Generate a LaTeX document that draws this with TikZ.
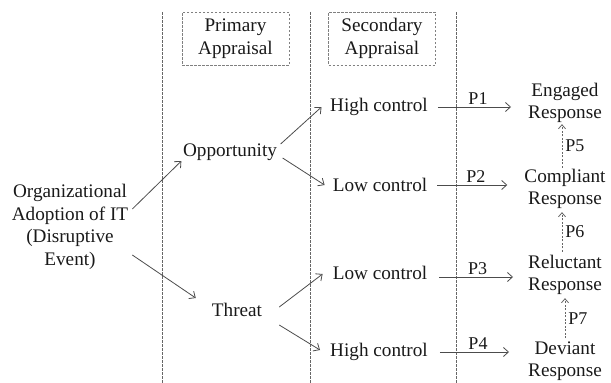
\documentclass[tikz,border=0pt]{standalone}
\usepackage{fontspec}
\setmainfont{Liberation Serif}
\usetikzlibrary{arrows.meta,calc}
\begin{document}
\begin{tikzpicture}[x=1pt,y=-1pt,
  txt/.style={inner sep=0pt, align=center, font=\fontsize{19.2}{22.5}\selectfont, text=black!90},
  plab/.style={inner sep=1pt, font=\fontsize{18}{20}\selectfont, text=black!90},
  arr/.style={draw=black!70, line width=0.8pt, -{Straight Barb[length=5pt,width=9pt]}},
  darr/.style={draw=black!60, line width=0.8pt, dash pattern=on 2pt off 1.5pt, -{Straight Barb[length=4pt,width=7pt]}},
  vline/.style={draw=black!60, line width=0.7pt, dash pattern=on 2.5pt off 1.5pt},
  hbox/.style={draw=black!50, line width=0.7pt, dash pattern=on 2.5pt off 1.5pt, minimum width=107pt, minimum height=53pt, inner sep=0pt, align=center, font=\fontsize{19.2}{22.5}\selectfont, text=black!90}
]
\useasboundingbox (0,0) rectangle (611,383);

% dashed separators
\coordinate (v1t) at (162,12); \coordinate (v1b) at (162,383);
\coordinate (v2t) at (310,12); \coordinate (v2b) at (310,383);
\coordinate (v3t) at (456,12); \coordinate (v3b) at (456,383);
\draw[vline] (v1t) -- (v1b);
\draw[vline] (v2t) -- (v2b);
\draw[vline] (v3t) -- (v3b);

% headers
\node[hbox] (prim) at (235.5,38.5) {Primary\\Appraisal};
\node[hbox] (sec) at (382,38.5) {Secondary\\Appraisal};

% nodes
\node[txt] (org) at (70,227) {Organizational\\Adoption of IT\\(Disruptive\\Event)};
\node[txt] (opp) at (230,152) {Opportunity};
\node[txt] (thr) at (237,310) {Threat};
\node[txt] (hc1) at (379,107) {High control};
\node[txt] (lc1) at (380,185) {Low control};
\node[txt] (lc2) at (380,273) {Low control};
\node[txt] (hc2) at (379,352) {High control};
\node[txt] (eng) at (565,103) {Engaged\\Response};
\node[txt] (com) at (565,189) {Compliant\\Response};
\node[txt] (rel) at (565,275) {Reluctant\\Response};
\node[txt] (dev) at (565,361) {Deviant\\Response};

% diagonal arrows
\draw[arr] ($(org.east)+(4,-18)$) -- ($(opp.west)+(-1.5,9)$);
\draw[arr] ($(org.east)+(4,28)$) -- ($(thr.west)+(-16,-12)$);
\draw[arr] ($(opp.east)+(3.5,-8)$) -- ($(hc1.west)+(-8.5,0)$);
\draw[arr] ($(opp.east)+(5.5,6)$) -- ($(lc1.west)+(-8,0)$);
\draw[arr] ($(thr.east)+(17,-3)$) -- ($(lc2.west)+(-10,1)$);
\draw[arr] ($(thr.east)+(17,15)$) -- ($(hc2.west)+(-10,-2)$);

% horizontal arrows
\draw[arr, shorten <=10pt, shorten >=17pt] (hc1.east) -- (hc1.east -| eng.west) node[plab, midway, above=1pt] {P1};
\draw[arr, shorten <=10pt, shorten >=17pt] (lc1.east) -- (lc1.east -| com.west) node[plab, midway, above=1pt] {P2};
\draw[arr, shorten <=12pt, shorten >=15pt] ($(lc2.east)+(0,4)$) -- ($(lc2.east -| rel.west)+(0,4)$) node[plab, midway, above=1pt] {P3};
\draw[arr, shorten <=12pt, shorten >=19pt] (hc2.east) -- (hc2.east -| dev.west) node[plab, midway, above=1pt] {P4};

% dotted vertical arrows
\draw[darr, shorten <=1pt, shorten >=1pt] ($(com.north)+(-3,0)$) -- ($(eng.south)+(-3,0)$) node[plab, midway, right=2pt] {P5};
\draw[darr, shorten <=3pt, shorten >=3pt] ($(rel.north)+(-3,0)$) -- ($(com.south)+(-3,0)$) node[plab, midway, right=2pt] {P6};
\draw[darr, shorten <=3pt, shorten >=3pt] ($(dev.north)+(0,0)$) -- ($(rel.south)+(0,0)$) node[plab, midway, right=2pt] {P7};
\end{tikzpicture}
\end{document}
